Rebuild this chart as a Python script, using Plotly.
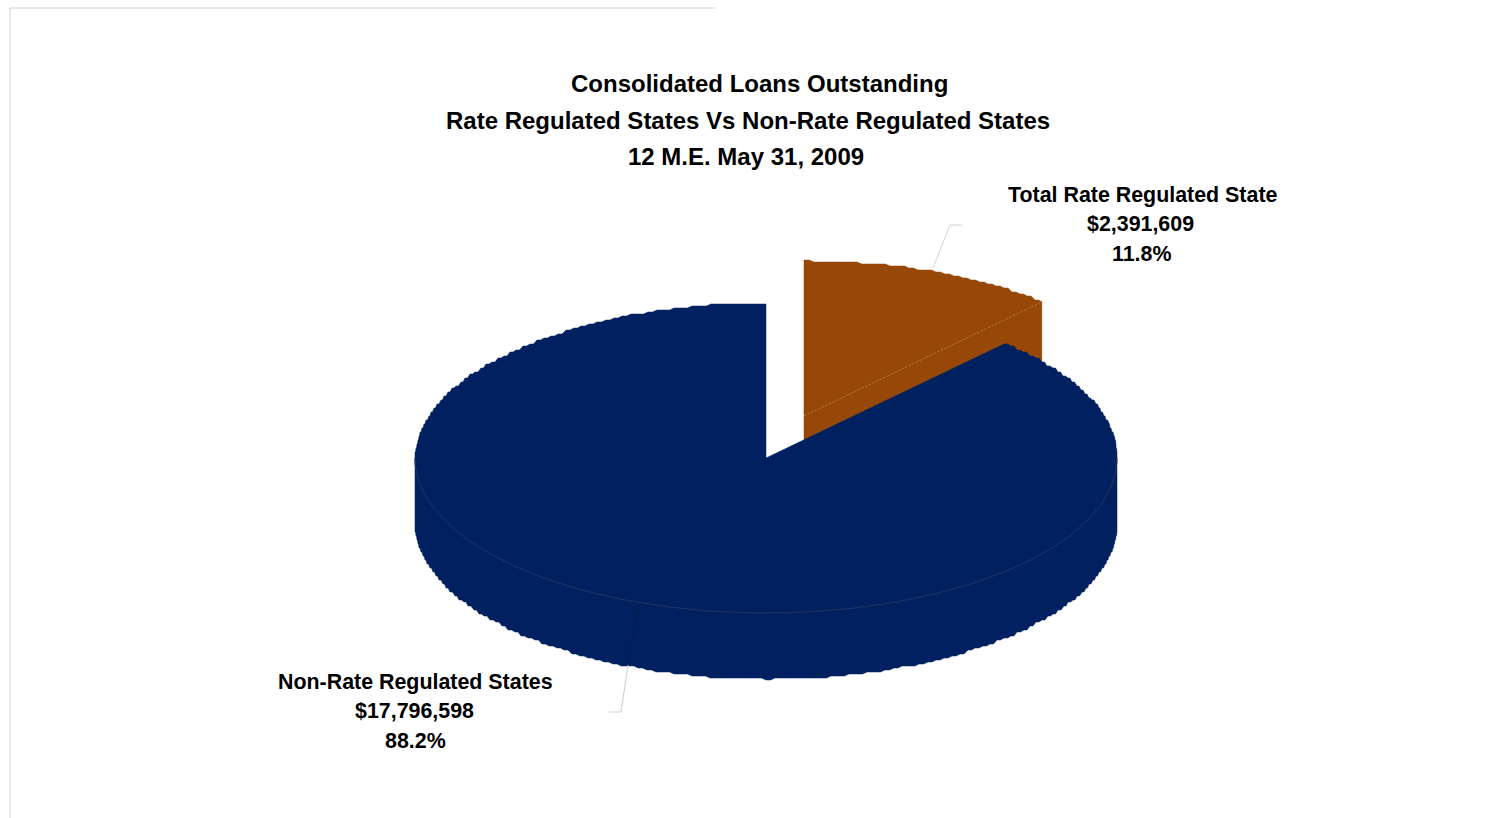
import numpy as np
import plotly.graph_objects as go

# ---- data ----
categories = ["Total Rate Regulated State", "Non-Rate Regulated States"]
values = [2391609, 17796598]
percent_labels = ["11.8%", "88.2%"]
title_lines = ["Consolidated Loans Outstanding",
               "Rate Regulated States Vs Non-Rate Regulated States",
               "12 M.E. May 31, 2009"]
colors = ["#974706", "#002060"]

# ---- projection of the tilted pie onto the page ----
W, H = 1507, 818
CX, CY = 766, 458      # centre of the main pie's top face
RX, RY = 351, 155
DEPTH = 66
EXPLODE = (38, -42)
FONT = "Liberation Sans"

share = values[0] / sum(values)
split = share * 2 * np.pi


def stair(theta, cx, cy, dy=0):
    """Rim points for clockwise-from-north angles, with the fine stepping of the source."""
    x = cx + RX * np.sin(theta)
    y = cy + dy - RY * np.cos(theta)
    x, y = np.round(x), np.round(y / 2) * 2
    xs, ys = [x[0]], [y[0]]
    for a, b in zip(x[1:], y[1:]):
        xs += [(xs[-1] + a) / 2, a]
        ys += [ys[-1], b]
    return xs, ys


def arc(a, b, cx, cy, dy=0):
    n = max(2, int(abs(b - a) / np.radians(1.5)))
    return stair(np.linspace(a, b, n), cx, cy, dy)


fig = go.Figure()


def poly(xs, ys, color, name):
    fig.add_trace(go.Scatter(x=xs, y=ys, mode="lines", fill="toself", fillcolor=color,
                             line=dict(color=color, width=0.5), name=name,
                             hoverinfo="name", showlegend=False))


def line(xs, ys, color, width=1, dash="solid"):
    fig.add_trace(go.Scatter(x=xs, y=ys, mode="lines",
                             line=dict(color=color, width=width, dash=dash),
                             hoverinfo="skip", showlegend=False))


# exploded slice: radial side face, then top face
ox, oy = CX + EXPLODE[0], CY + EXPLODE[1]
ex, ey = ox + RX * np.sin(split), oy - RY * np.cos(split)
poly([ox, ex, ex, ox, ox], [oy, ey, ey + DEPTH, oy + DEPTH, oy], colors[0], categories[0])
ax_, ay_ = arc(0, split, ox, oy)
poly([ox] + ax_ + [ox], [oy] + ay_ + [oy], colors[0], categories[0])
line([ox, ex], [oy, ey], "#b08a68", 0.7, "2px,2px")

# main slice: rim side wall, then top face
sx2, sy2 = arc(3 * np.pi / 2, np.pi / 2, CX, CY, DEPTH)
poly([CX - RX] + sx2 + [CX + RX, CX - RX], [CY] + sy2 + [CY, CY], colors[1], categories[1])
ax_, ay_ = arc(split, 2 * np.pi, CX, CY)
poly([CX] + ax_ + [CX], [CY] + ay_ + [CY], colors[1], categories[1])

# faint rim between top face and wall
th = np.linspace(np.pi / 2, 3 * np.pi / 2, 120)
line(CX + RX * np.sin(th), CY - RY * np.cos(th), "#2b3a62", 0.8)

# leader lines and page frame
line([933, 950, 962], [268, 225, 225], "#d4d4d4", 1)
line([639, 628], [603, 665], "#0d1a45", 1)
line([628, 621, 609], [665, 712, 712], "#cfcfcf", 1)
line([10, 10, 715], [818, 8, 8], "#d0d0d0", 1)


def text(s, x, y, size=21.4):
    fig.add_annotation(x=x, y=y, text=f"<b>{s}</b>", showarrow=False, xanchor="center",
                       yanchor="middle", font=dict(family=FONT, size=size, color="#000000"))


for s, x, y in zip(title_lines, [759.5, 748, 745.5], [83, 120, 156]):
    text(s, x, y, 24)
for s, x, y in zip([categories[0], f"${values[0]:,}", percent_labels[0]],
                   [1143, 1140.5, 1141.5], [195, 224, 254]):
    text(s, x, y)
for s, x, y in zip([categories[1], f"${values[1]:,}", percent_labels[1]],
                   [415.5, 414, 415.5], [682, 711, 741]):
    text(s, x, y)

fig.update_layout(width=W, height=H, margin=dict(l=0, r=0, t=0, b=0),
                  paper_bgcolor="#ffffff", plot_bgcolor="#ffffff", showlegend=False,
                  xaxis=dict(range=[0, W], visible=False, fixedrange=True),
                  yaxis=dict(range=[H, 0], visible=False, fixedrange=True))
fig.write_html("out.html", config={"displayModeBar": False},
               post_script="document.body.style.margin='0';document.body.style.overflow='hidden';")
